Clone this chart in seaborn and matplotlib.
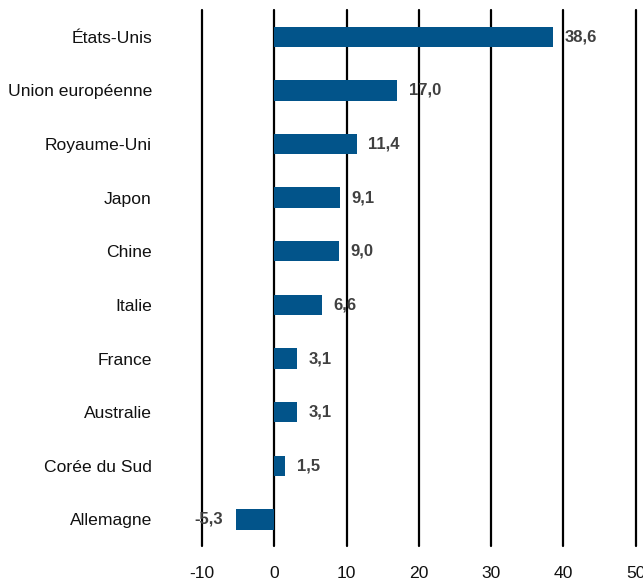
import pandas as pd
import matplotlib.pyplot as plt
import seaborn as sns

countries = ["États-Unis", "Union européenne", "Royaume-Uni", "Japon", "Chine",
             "Italie", "France", "Australie", "Corée du Sud", "Allemagne"]
values = [38.6, 17.0, 11.4, 9.1, 9.0, 6.6, 3.1, 3.1, 1.5, -5.3]
x_ticks = [-10, 0, 10, 20, 30, 40, 50]


def main():
    sns.set_style("white")
    plt.rcParams['font.family'] = ['Liberation Sans', 'DejaVu Sans']

    df = pd.DataFrame({"pays": countries, "valeur": values})

    fig = plt.figure(figsize=(6.43, 5.83), dpi=100)
    ax = fig.add_axes([0.314, 0.063, 0.686, 0.920])

    for x in x_ticks:
        ax.axvline(x, color="black", lw=1.6, zorder=0, clip_on=False)

    sns.barplot(data=df, x="valeur", y="pays", color="#02548a", saturation=1,
                width=0.38, linewidth=0, ax=ax, zorder=2)

    for i, v in enumerate(values):
        label = f"{v:.1f}".replace(".", ",")
        if v >= 0:
            ax.text(v + 1.6, i, label, va="center", ha="left", fontsize=12,
                    fontweight="bold", color="#404040", zorder=3)
        else:
            ax.text(v - 1.8, i, label, va="center", ha="right", fontsize=12,
                    fontweight="bold", color="#404040", zorder=3)

    ax.set_xlim(-10, 51)
    ax.set_ylim(9.5, -0.5)
    ax.set_xticks(x_ticks)
    ax.set_xticklabels([str(t) for t in x_ticks])
    ax.set_xlabel("")
    ax.set_ylabel("")
    ax.tick_params(axis="x", length=0, pad=14, labelsize=12.6, labelcolor="#111111")
    ax.tick_params(axis="y", length=0, pad=36, labelsize=12.6, labelcolor="#111111")
    sns.despine(ax=ax, left=True, bottom=True)

    plt.savefig("out.png", dpi=100)
    plt.close()


if __name__ == "__main__":
    main()
